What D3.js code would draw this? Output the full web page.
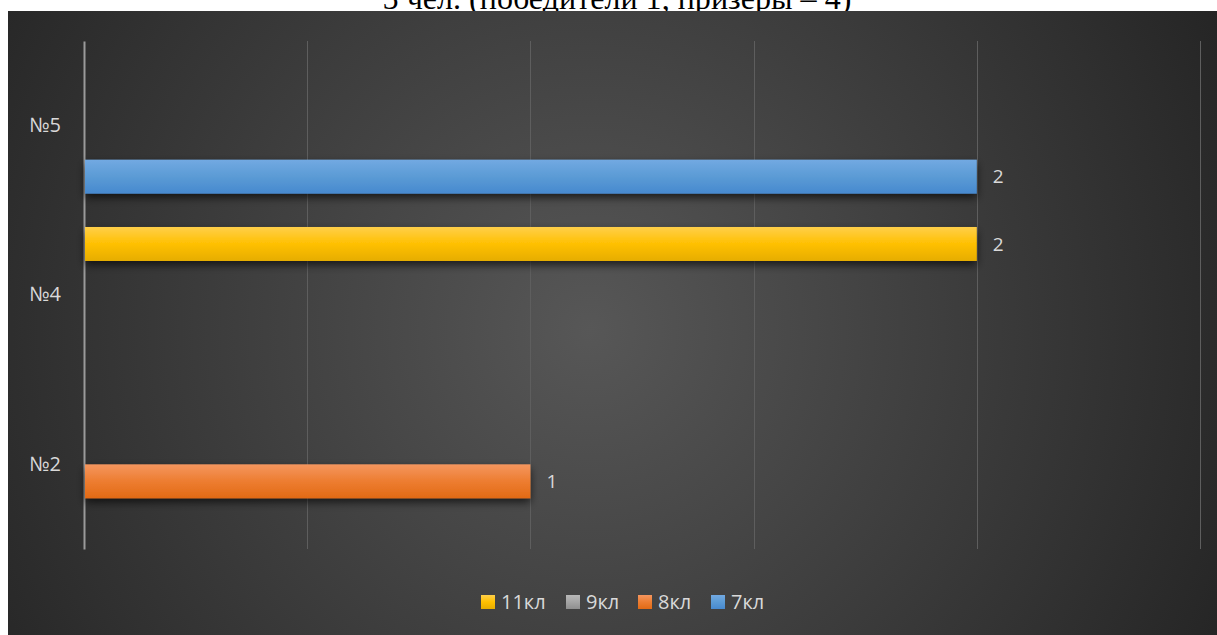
<!DOCTYPE html>
<html>
<head>
<meta charset="utf-8">
<script src="https://cdn.jsdelivr.net/npm/d3@7"></script>
<style>
html,body{margin:0;padding:0;background:#fff;}
svg{display:block;}
</style>
</head>
<body>
<svg id="chart" width="1217" height="635"></svg>
<script>
// ---- data ----
const titleText = "5 чел. (победители 1, призеры – 4)";
const categories = ["№5", "№4", "№2"];          // top to bottom
const seriesNames = ["11кл", "9кл", "8кл", "7кл"];
const values11 = { "№5": null, "№4": 2, "№2": null };
const values9  = { "№5": null, "№4": null, "№2": null };
const values8  = { "№5": null, "№4": null, "№2": 1 };
const values7  = { "№5": 2, "№4": null, "№2": null };
const xTicks = [0, 0.5, 1, 1.5, 2, 2.5];

const seriesValues = { "11кл": values11, "9кл": values9, "8кл": values8, "7кл": values7 };
const seriesColors = {
  "11кл": ["#ffcf4a", "#ffc000", "#e6ad00"],
  "9кл":  ["#b8b8b8", "#a5a5a5", "#8f8f8f"],
  "8кл":  ["#f5965f", "#ed7d31", "#e26a15"],
  "7кл":  ["#72a9e2", "#5b9bd5", "#4789cf"]
};

const svg = d3.select("#chart");
const W = 1217, H = 635;
const defs = svg.append("defs");
const FONT = "'Open Sans', 'Noto Sans', sans-serif";

// background radial gradient
const bg = defs.append("radialGradient").attr("id", "bgGrad")
  .attr("gradientUnits", "userSpaceOnUse")
  .attr("cx", 590).attr("cy", 330).attr("r", 720);
bg.append("stop").attr("offset", "0%").attr("stop-color", "#575757");
bg.append("stop").attr("offset", "100%").attr("stop-color", "#242424");

seriesNames.forEach((s, i) => {
  const g = defs.append("linearGradient").attr("id", "bar" + i)
    .attr("x1", 0).attr("y1", 0).attr("x2", 0).attr("y2", 1);
  g.append("stop").attr("offset", "0%").attr("stop-color", seriesColors[s][0]);
  g.append("stop").attr("offset", "50%").attr("stop-color", seriesColors[s][1]);
  g.append("stop").attr("offset", "100%").attr("stop-color", seriesColors[s][2]);
});

const f = defs.append("filter").attr("id", "shadow")
  .attr("x", "-5%").attr("y", "-30%").attr("width", "110%").attr("height", "190%");
f.append("feDropShadow").attr("dx", 0).attr("dy", 4).attr("stdDeviation", 4)
  .attr("flood-color", "#000").attr("flood-opacity", 0.65);

// title (partly hidden above the chart area, as in the reference)
const title = svg.append("text")
  .attr("x", 617).attr("y", 9)
  .attr("text-anchor", "middle")
  .attr("font-family", "'Liberation Serif', 'Times New Roman', serif")
  .attr("font-size", 28)
  .attr("fill", "#000")
  .text(titleText);
const tw = title.node().getComputedTextLength();
title.attr("font-size", 28 * 469 / tw);

svg.append("rect").attr("x", 8).attr("y", 11).attr("width", W - 8).attr("height", H - 11)
  .attr("fill", "url(#bgGrad)");

// scales
const margin = { left: 84, right: 1200, top: 41, bottom: 549 };
const x = d3.scaleLinear().domain([0, 2.5]).range([margin.left, margin.right]);
const y0 = d3.scaleBand().domain(categories).range([margin.top, margin.bottom]).padding(0);
const y1 = d3.scaleBand().domain(seriesNames).range([0, y0.bandwidth()])
  .paddingInner(0).paddingOuter(0.49);

// grid
svg.append("g").selectAll("line").data(xTicks.slice(1)).join("line")
  .attr("x1", d => Math.round(x(d)) + 0.5).attr("x2", d => Math.round(x(d)) + 0.5)
  .attr("y1", margin.top).attr("y2", margin.bottom)
  .attr("stroke", "#5e5e5e").attr("stroke-width", 1);

// category axis
const yAxis = d3.axisLeft(y0).tickSize(0).tickPadding(23);
const ya = svg.append("g").attr("transform", `translate(${margin.left},0)`).call(yAxis);
ya.select(".domain").attr("stroke", "#9a9a9a").attr("stroke-width", 2);
ya.selectAll("text")
  .attr("font-family", FONT)
  .attr("font-size", 20).attr("fill", "#d9d9d9");

// bars
const bars = [];
categories.forEach(c => seriesNames.forEach((s, i) => {
  const v = seriesValues[s][c];
  if (v != null) bars.push({ c, s, i, v });
}));

svg.append("g").selectAll("rect").data(bars).join("rect")
  .attr("x", x(0) + 1)
  .attr("y", d => y0(d.c) + y1(d.s))
  .attr("width", d => x(d.v) - x(0) - 1)
  .attr("height", y1.bandwidth())
  .attr("fill", d => `url(#bar${d.i})`)
  .attr("filter", "url(#shadow)");

// value labels
svg.append("g").selectAll("text").data(bars).join("text")
  .attr("x", d => x(d.v) + 16)
  .attr("y", d => y0(d.c) + y1(d.s) + y1.bandwidth() / 2)
  .attr("dy", "0.35em")
  .attr("font-family", FONT)
  .attr("font-size", 19).attr("fill", "#d9d9d9")
  .text(d => d.v);

// legend
const legend = svg.append("g");
const legX = [481, 566, 638, 711];
seriesNames.forEach((s, i) => {
  const g = legend.append("g").attr("transform", `translate(${legX[i]},595)`);
  g.append("rect").attr("width", 14).attr("height", 14).attr("fill", `url(#bar${i})`);
  g.append("text").attr("x", 20).attr("y", 7).attr("dy", "0.36em")
    .attr("font-family", FONT)
    .attr("font-size", 20).attr("fill", "#d9d9d9").text(s);
});
</script>
</body>
</html>
